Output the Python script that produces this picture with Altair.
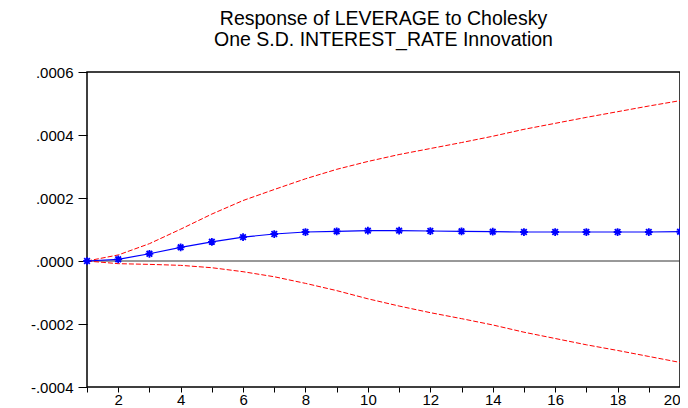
import altair as alt
import pandas as pd

periods = list(range(1, 21))
response = [0.0, 0.0000054, 0.000023, 0.0000435, 0.000061, 0.000076, 0.0000857, 0.000092,
            0.0000943, 0.0000962, 0.0000962, 0.0000952, 0.0000943, 0.000093, 0.000092,
            0.000092, 0.000092, 0.000092, 0.000092, 0.000093]
upper = [0.0, 0.0000192, 0.000055, 0.000101, 0.000149, 0.000192, 0.000227, 0.000261,
         0.000291, 0.000316, 0.000338, 0.000357, 0.000376, 0.000396, 0.000418, 0.000437,
         0.000456, 0.000474, 0.000492, 0.000509]
lower = [0.0, -0.0000085, -0.0000107, -0.0000138, -0.0000213, -0.000034, -0.00005, -0.000071,
         -0.000094, -0.000120, -0.000143, -0.000164, -0.000183, -0.000203, -0.000226,
         -0.000246, -0.000266, -0.000284, -0.000303, -0.000322]
y_ticks = [-0.0004, -0.0002, 0.0, 0.0002, 0.0004, 0.0006]
title_lines = ["Response of LEVERAGE to Cholesky", "One S.D. INTEREST_RATE Innovation"]

df = pd.DataFrame({"period": periods, "response": response, "upper": upper, "lower": lower})
zero_df = pd.DataFrame({"y": [0.0]})

FONT = "Liberation Sans"

x_enc = alt.X(
    "period:Q",
    scale=alt.Scale(domain=[1, 20], nice=False, zero=False),
    axis=alt.Axis(
        values=periods, title=None, grid=False, domain=False,
        labelExpr="datum.value % 2 == 0 ? datum.value : ''",
        tickSize=5, tickColor="black", labelPadding=0,
        labelFont=FONT, labelFontSize=15, labelColor="black",
        labelFlush=True, labelOverlap=False,
    ),
)
y_scale = alt.Scale(domain=[-0.0004, 0.0006], nice=False, zero=False)
y_axis = alt.Axis(
    values=y_ticks, title=None, grid=False, domain=False,
    labelExpr="datum.value < -1e-12 ? '-' + replace(format(-datum.value, '.4f'), '0.', '.') : replace(format(abs(datum.value), '.4f'), '0.', '.')",
    tickSize=9, tickColor="black", labelPadding=5,
    labelFont=FONT, labelFontSize=15, labelColor="black",
    labelFlush=False, labelOverlap=False,
)

base = alt.Chart(df)

zero_line = alt.Chart(zero_df).mark_rule(color="#333333", strokeWidth=1).encode(
    y=alt.Y("y:Q", scale=y_scale, axis=y_axis)
)

upper_line = base.mark_line(color="#FF0000", strokeWidth=1, strokeDash=[5, 2]).encode(
    x=x_enc, y=alt.Y("upper:Q", scale=y_scale, axis=y_axis)
)
lower_line = base.mark_line(color="#FF0000", strokeWidth=1, strokeDash=[5, 2]).encode(
    x=x_enc, y=alt.Y("lower:Q", scale=y_scale, axis=y_axis)
)
resp_line = base.mark_line(color="#0000FF", strokeWidth=1.2).encode(
    x=x_enc, y=alt.Y("response:Q", scale=y_scale, axis=y_axis)
)
star = "M-1,0L1,0M0,-1L0,1M-0.72,-0.72L0.72,0.72M-0.72,0.72L0.72,-0.72"
resp_pts = base.mark_point(shape=star, color="#0000FF", strokeWidth=1.8, size=60, filled=False, opacity=1).encode(
    x=x_enc, y=alt.Y("response:Q", scale=y_scale, axis=y_axis)
)

chart = alt.layer(zero_line, upper_line, lower_line, resp_line, resp_pts).properties(
    width=593,
    height=315,
    title=alt.TitleParams(
        text=title_lines, font=FONT, fontSize=19.5, fontWeight="normal", color="black",
        anchor="middle", baseline="alphabetic", lineHeight=21, offset=0,
    ),
    autosize=alt.AutoSizeParams(type="none"),
    padding={"left": 79, "top": 64, "right": 0, "bottom": 21},
).configure_view(stroke="black", strokeWidth=1.5)

chart.save("out.html", embed_options={"renderer": "svg", "actions": False})
